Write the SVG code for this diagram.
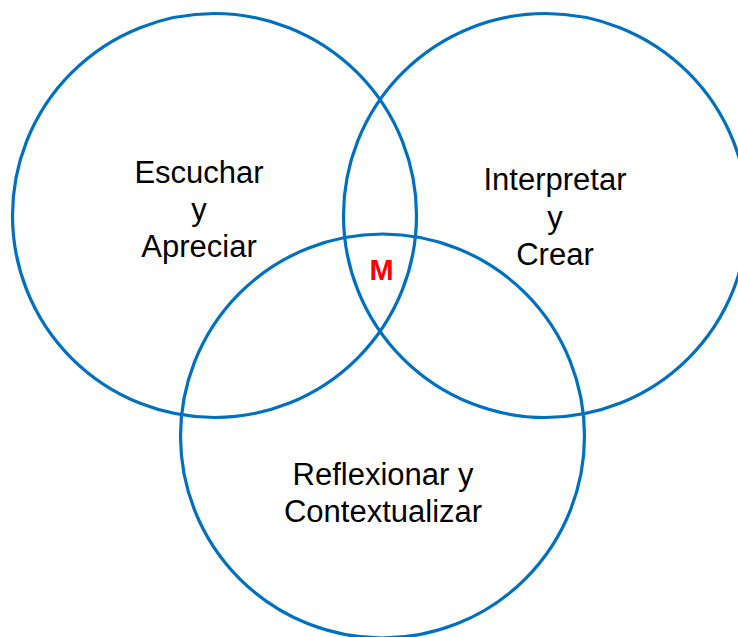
<svg xmlns="http://www.w3.org/2000/svg" width="738" height="637" viewBox="0 0 738 637">
<style>
.c{fill:none;stroke:#0070C0;stroke-width:3.2}
.t{font-family:"Liberation Sans",Arial,sans-serif;font-size:31px;fill:#000;text-anchor:middle}
.m{font-family:"Liberation Sans",Arial,sans-serif;font-size:29px;font-weight:bold;fill:#FF0000;text-anchor:middle}
</style>
<rect width="738" height="637" fill="#fff"/>
<g id="escuchar">
<circle class="c" cx="214.5" cy="215.5" r="202"/>
<text class="t" x="199" y="183">Escuchar</text>
<text class="t" x="199" y="220">y</text>
<text class="t" x="199" y="257">Apreciar</text>
</g>
<g id="interpretar">
<circle class="c" cx="545.5" cy="215.5" r="202"/>
<text class="t" x="555" y="190">Interpretar</text>
<text class="t" x="555" y="227.5">y</text>
<text class="t" x="555" y="265">Crear</text>
</g>
<g id="reflexionar">
<circle class="c" cx="382.5" cy="436" r="202"/>
<text class="t" x="383" y="485">Reflexionar y</text>
<text class="t" x="383" y="521.5">Contextualizar</text>
</g>
<g id="m">
<text class="m" x="381.7" y="280">M</text>
</g>
</svg>
